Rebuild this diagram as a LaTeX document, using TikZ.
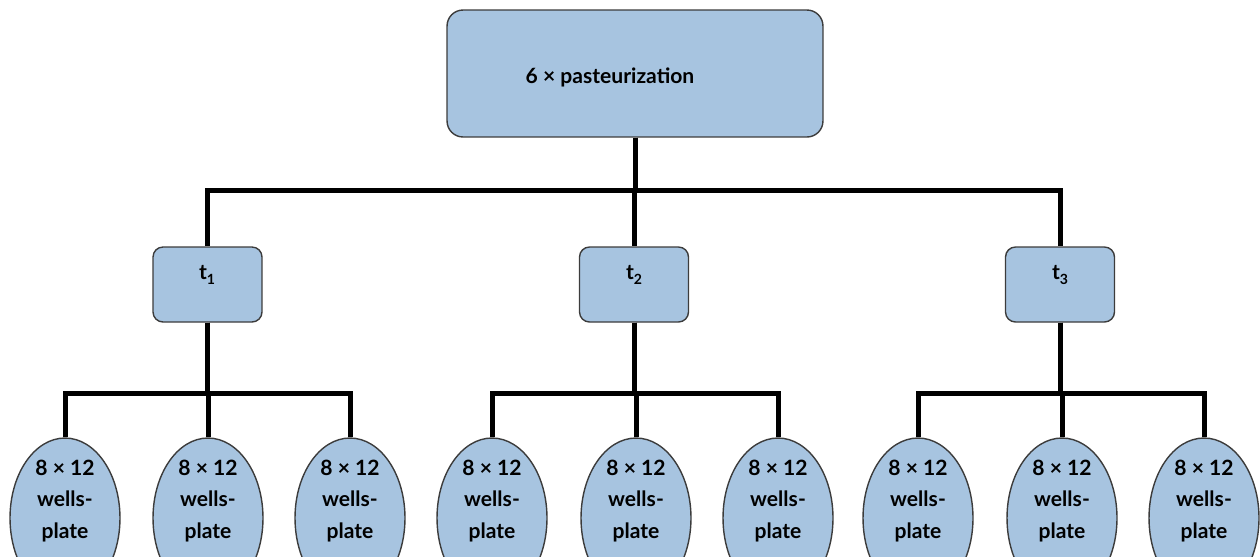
\documentclass[tikz,border=0pt]{standalone}
\usepackage{fontspec}
\setmainfont{Lato}
\usetikzlibrary{shapes.geometric}
\definecolor{boxblue}{HTML}{A7C4E0}
\definecolor{rimgray}{HTML}{3C3C3C}

\begin{document}
\begin{tikzpicture}[x=0.02cm, y=-0.02cm,
  box/.style={rectangle, rounded corners=0.2cm, draw=rimgray, line width=0.8pt, fill=boxblue},
  plate/.style={ellipse, minimum width=2.2cm, minimum height=3.2cm, draw=rimgray, line width=0.8pt, fill=boxblue, inner sep=0pt},
  txt/.style={font=\fontsize{12}{18}\selectfont\bfseries, align=center},
  link/.style={line width=0.1cm}]

\clip (0,0) rectangle (1260,556);

\node [box, minimum width=7.52cm, minimum height=2.54cm, rounded corners=0.32cm] (v1) at (635,73.5) {};
\node [txt] (l1) at (610,77) {6 × pasteurization};

\node [box, minimum width=2.18cm, minimum height=1.5cm] (v2) at (207.5,284.5) {};
\node [box, minimum width=2.18cm, minimum height=1.5cm] (v3) at (634,284.5) {};
\node [box, minimum width=2.18cm, minimum height=1.5cm] (v4) at (1060,284.5) {};
\node [txt] (l2) at (207,275) {t\raisebox{-0.45ex}{\footnotesize 1}};
\node [txt] (l3) at (634,275) {t\raisebox{-0.45ex}{\footnotesize 2}};
\node [txt] (l4) at (1060,275) {t\raisebox{-0.45ex}{\footnotesize 3}};

\node [plate] (v5) at (65,518) {};
\node [plate] (v6) at (208,518) {};
\node [plate] (v7) at (350,518) {};
\node [plate] (v8) at (492,518) {};
\node [plate] (v9) at (636,518) {};
\node [plate] (v10) at (778,518) {};
\node [plate] (v11) at (918,518) {};
\node [plate] (v12) at (1062,518) {};
\node [plate] (v13) at (1204,518) {};

\node [txt] (l5) at (65,501) {8 × 12\\wells-\\plate};
\node [txt] (l6) at (208,501) {8 × 12\\wells-\\plate};
\node [txt] (l7) at (350,501) {8 × 12\\wells-\\plate};
\node [txt] (l8) at (492,501) {8 × 12\\wells-\\plate};
\node [txt] (l9) at (636,501) {8 × 12\\wells-\\plate};
\node [txt] (l10) at (778,501) {8 × 12\\wells-\\plate};
\node [txt] (l11) at (918,501) {8 × 12\\wells-\\plate};
\node [txt] (l12) at (1062,501) {8 × 12\\wells-\\plate};
\node [txt] (l13) at (1204,501) {8 × 12\\wells-\\plate};

\draw [link] (v1.south) -- ++(0,53) -| (v2.north);
\draw [link] (v1.south) -- ++(0,53) -| (v3.north);
\draw [link] (v1.south) -- ++(0,53) -| (v4.north);

\draw [link] (v2.south) -- ++(0,71) -| (v5.north);
\draw [link] (v2.south) -- ++(0,71) -| (v6.north);
\draw [link] (v2.south) -- ++(0,71) -| (v7.north);

\draw [link] (v3.south) -- ++(0,71) -| (v8.north);
\draw [link] (v3.south) -- ++(0,71) -| (v9.north);
\draw [link] (v3.south) -- ++(0,71) -| (v10.north);

\draw [link] (v4.south) -- ++(0,71) -| (v11.north);
\draw [link] (v4.south) -- ++(0,71) -| (v12.north);
\draw [link] (v4.south) -- ++(0,71) -| (v13.north);

\end{tikzpicture}
\end{document}
